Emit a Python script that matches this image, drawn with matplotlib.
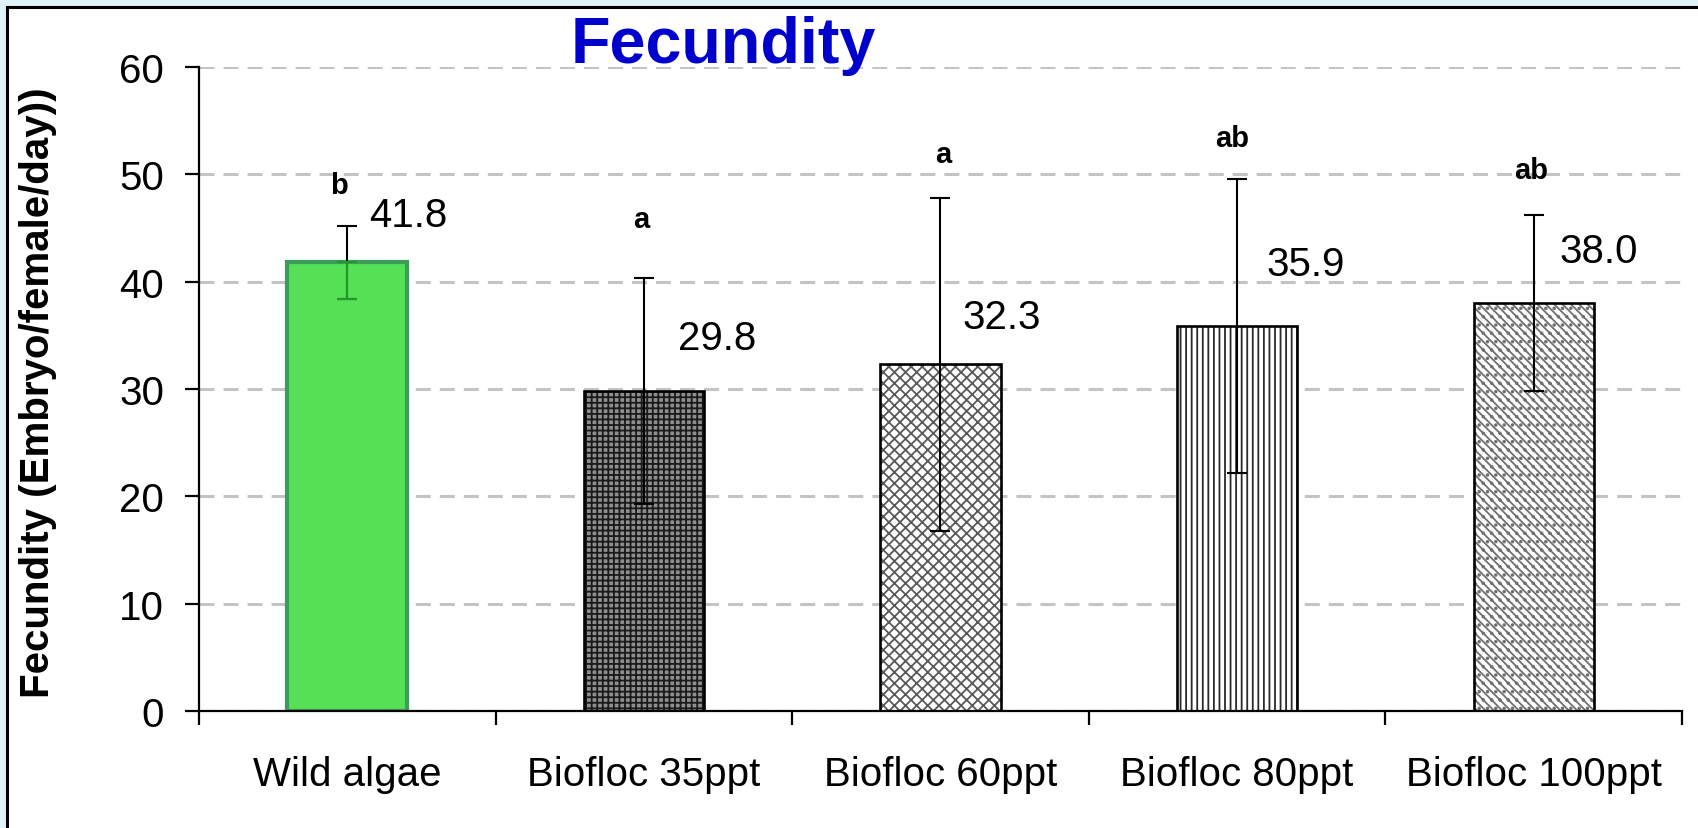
import matplotlib
matplotlib.use('Agg')
import matplotlib.pyplot as plt
from matplotlib.patches import Rectangle
import numpy as np

# ---------------- data ----------------
categories = ['Wild algae', 'Biofloc 35ppt', 'Biofloc 60ppt', 'Biofloc 80ppt', 'Biofloc 100ppt']
means = [41.8, 29.8, 32.3, 35.9, 38.0]
errors = [3.4, 10.5, 15.5, 13.7, 8.2]
value_labels = ['41.8', '29.8', '32.3', '35.9', '38.0']
letters = ['b', 'a', 'a', 'ab', 'ab']
y_ticks = [0, 10, 20, 30, 40, 50, 60]
title_text = 'Fecundity'
y_label = 'Fecundity (Embryo/female/day))'

# ---------------- layout / style ----------------
value_dx = [0.206, 0.246, 0.205, 0.23, 0.22]
value_dy = [4.4, 4.95, 4.45, 5.7, 4.9]
letter_dx = [-0.027, -0.01, 0.01, -0.017, -0.007]
letter_pad = [3.8, 5.5, 4.1, 3.8, 4.2]
bar_width = 0.405

plt.rcParams['font.family'] = ['Liberation Sans', 'DejaVu Sans']
plt.rcParams['hatch.linewidth'] = 1.3
plt.rcParams['lines.scale_dashes'] = False

W, H = 1699, 829
fig = plt.figure(figsize=(W / 100, H / 100), dpi=100)
fig.patch.set_facecolor('#E2F2F9')
fig.add_artist(Rectangle((7 / W, -0.1), 1.2, 1 - 8 / H + 0.1, transform=fig.transFigure,
                         facecolor='white', edgecolor='black', linewidth=2.2, zorder=-10))

ax = fig.add_axes([199 / W, (H - 712) / H, (1682 - 199) / W, (712 - 68) / H])
ax.set_facecolor('none')
ax.set_xlim(-0.5, len(categories) - 0.5)
ax.set_ylim(0, 60)

for s in ['top', 'right']:
    ax.spines[s].set_visible(False)
for s in ['left', 'bottom']:
    ax.spines[s].set_linewidth(1.6)
    ax.spines[s].set_zorder(5)

ax.set_yticks(y_ticks)
ax.set_yticklabels([str(t) for t in y_ticks])
ax.tick_params(axis='y', direction='out', length=10, width=1.6, labelsize=29, pad=15)
ax.yaxis.grid(True, color='#C4C4C4', linewidth=2.2, linestyle=(0, (10.8, 6.5)), zorder=0)
ax.set_axisbelow(True)

x = np.arange(len(categories))
ax.set_xticks(np.arange(-0.5, len(categories), 1.0))
ax.set_xticklabels([])
ax.set_xticks(x, minor=True)
ax.set_xticklabels(categories, minor=True)
ax.tick_params(axis='x', which='major', direction='out', length=10, width=1.6)
ax.tick_params(axis='x', which='minor', length=0, labelsize=29, pad=32)

# bars
ax.bar(x[0], means[0], bar_width, color='#55E055', edgecolor='#3C9C5C', linewidth=3, zorder=2)
styles = [
    ('#8E8E8E', '#1A1A1A', '+++'),
    ('white', '#5A5A5A', 'xxx'),
    ('white', '#2A2A2A', '|||'),
    ('white', '#707070', '\\\\\\\\..'),
]
for i, (fc, hc, h) in zip(x[1:], styles):
    ax.bar(i, means[i], bar_width, facecolor=fc, edgecolor=hc, hatch=h, linewidth=0, zorder=2)
    ax.bar(i, means[i], bar_width, fill=False, edgecolor='black', linewidth=1.9, zorder=2.5)

# error bars
ax.errorbar(x, means, yerr=errors, fmt='none', ecolor='black', elinewidth=1.5,
            capsize=7.2, capthick=1.5, zorder=4)
ax.errorbar(x[0], means[0] - errors[0] / 2, yerr=errors[0] / 2, fmt='none', ecolor='#1F9A2A',
            elinewidth=1.5, capsize=7.2, capthick=1.5, zorder=4.5)

# labels
for i in x:
    ax.text(i + value_dx[i], means[i] + value_dy[i], value_labels[i], ha='center', va='center',
            fontsize=29, zorder=6)
    ax.text(i + letter_dx[i], means[i] + errors[i] + letter_pad[i], letters[i], ha='center',
            va='center', fontsize=21, fontweight='bold', zorder=6)

fig.text(723 / W, 1 - 45.5 / H, title_text, ha='center', va='center', fontsize=46.5,
         fontweight='bold', color='#0000CC')
fig.text(38 / W, 1 - 393 / H, y_label, ha='center', va='center', rotation=90, fontsize=29,
         fontweight='bold')

fig.savefig('out.png', dpi=100, facecolor=fig.get_facecolor())
